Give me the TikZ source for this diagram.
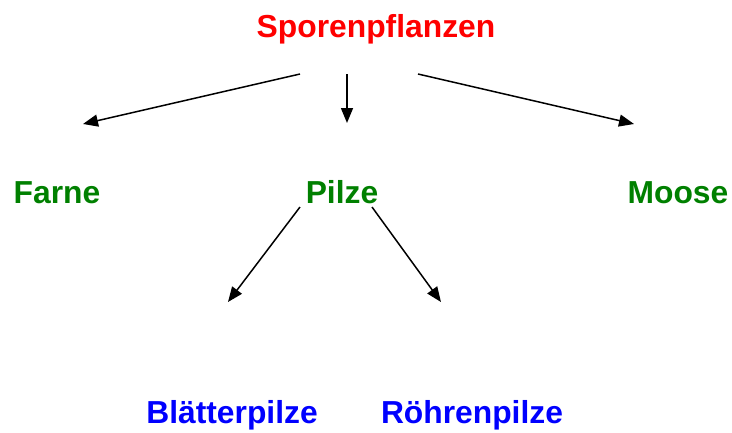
\documentclass[tikz,border=0pt]{standalone}
\usepackage{fontspec}
\setmainfont{Liberation Sans}
\usetikzlibrary{arrows.meta}
\definecolor{tred}{RGB}{255,0,0}
\definecolor{tgreen}{RGB}{0,128,0}
\definecolor{tblue}{RGB}{0,0,255}
\tikzset{
  lbl/.style={anchor=base, inner sep=0pt, font=\fontsize{31.8}{36}\selectfont\bfseries},
  arr/.style={line width=1.5pt, -{Triangle[length=15pt,width=12pt]}}
}
\begin{document}
\begin{tikzpicture}[x=1pt,y=-1pt]
\useasboundingbox (0,0) rectangle (732,432);
\node[lbl, text=tred] (sp) at (376,37) {Sporenpflanzen};
\node[lbl, text=tgreen] (fa) at (57,203) {Farne};
\node[lbl, text=tgreen] (pi) at (342,203) {Pilze};
\node[lbl, text=tgreen] (mo) at (678,203) {Moose};
\node[lbl, text=tblue] (bl) at (232,423) {Blätterpilze};
\node[lbl, text=tblue] (ro) at (472,423) {Röhrenpilze};
\coordinate (s1) at (300,74);
\coordinate (s2) at (347,74);
\coordinate (s3) at (418,74);
\coordinate (e1) at (83,124);
\coordinate (e2) at (347,123);
\coordinate (e3) at (634,124);
\coordinate (p1) at (300,207);
\coordinate (p2) at (372,207);
\coordinate (e4) at (228,302);
\coordinate (e5) at (441,302);
\draw[arr] (s1) -- (e1);
\draw[arr] (s2) -- (e2);
\draw[arr] (s3) -- (e3);
\draw[arr] (p1) -- (e4);
\draw[arr] (p2) -- (e5);
\end{tikzpicture}
\end{document}
